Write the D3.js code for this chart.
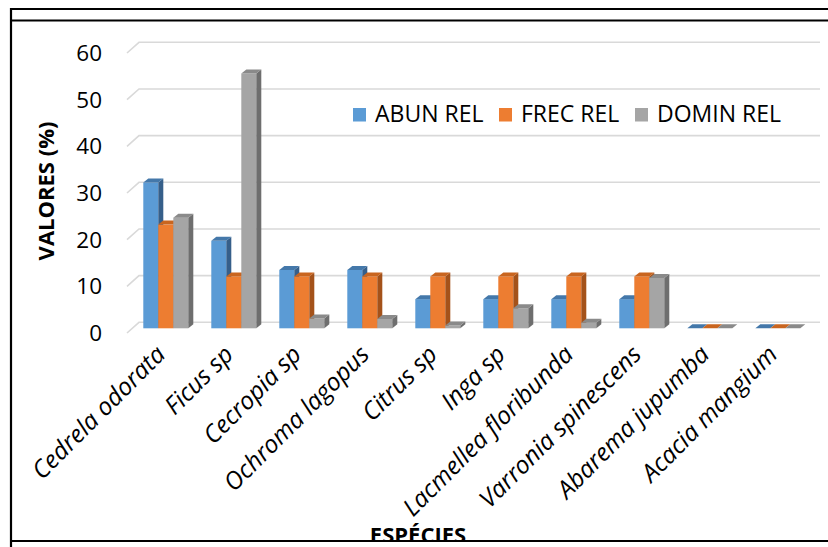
<!DOCTYPE html>
<html>
<head>
<meta charset="utf-8">
<script src="https://cdn.jsdelivr.net/npm/d3@7"></script>
<style>
  html, body { margin: 0; padding: 0; background: #fff; }
  svg { display: block; }
</style>
</head>
<body>
<svg id="chart" width="828" height="547"></svg>
<script>
// Species and relative indices (%)
const categories = ["Cedrela odorata", "Ficus sp", "Cecropia sp", "Ochroma lagopus", "Citrus sp",
                    "Inga sp", "Lacmellea floribunda", "Varronia spinescens", "Abarema jupumba", "Acacia mangium"];
const abunRel  = [31.25, 18.75, 12.5, 12.5, 6.25, 6.25, 6.25, 6.25, 0, 0];
const frecRel  = [22.22, 11.11, 11.11, 11.11, 11.11, 11.11, 11.11, 11.11, 0, 0];
const dominRel = [23.7, 54.6, 2.1, 2.0, 0.6, 4.3, 1.2, 10.8, 0, 0];
const seriesNames = ["ABUN REL", "FREC REL", "DOMIN REL"];
const yTicks = [0, 10, 20, 30, 40, 50, 60];

const seriesValues = [abunRel, frecRel, dominRel];
const palette = {
  front: ["#5b9bd5", "#ed7d31", "#a5a5a5"],
  top:   ["#4478aa", "#c9651f", "#8a8a8a"],
  side:  ["#365f8a", "#a4521a", "#6e6e6e"]
};

const svg = d3.select("#chart");
const font = "'Open Sans', 'Liberation Sans', sans-serif";

// 3D geometry: bar depth offset and back-wall offset
const depthX = 5, depthY = 4;
const wallDX = 12, wallDY = 10.7, wallShift = 6;
const wallLeft = 139, wallRight = 820;

const x = d3.scaleBand().domain(categories).range([131.8, 811.8])
  .paddingInner(23 / 68).paddingOuter(23 / 136);
const xs = d3.scaleBand().domain(seriesNames).range([0, x.bandwidth()]);
const y = d3.scaleLinear().domain([0, 60]).range([328.3, 48.3]);

// Back-wall gridlines with the oblique side edge
const grid = svg.append("g");
yTicks.forEach(t => {
  const wy = y(t) - wallShift;
  grid.append("path")
    .attr("d", `M${wallLeft - wallDX},${wy + wallDY}L${wallLeft},${wy}L${wallRight},${wy}`)
    .attr("fill", "none").attr("stroke", "#d9d9d9").attr("stroke-width", 1.6);
});

// Y tick labels
svg.append("g").selectAll("text").data(yTicks).join("text")
  .attr("x", 102).attr("y", d => y(d) - wallShift + wallDY)
  .attr("dy", "0.36em")
  .attr("text-anchor", "end")
  .attr("font-family", font).attr("font-size", 22.5).attr("fill", "#000")
  .text(d => d);

// Bars (front, top, side faces)
const bars = svg.append("g");
categories.forEach((c, ci) => {
  seriesNames.forEach((s, si) => {
    const v = seriesValues[si][ci];
    const x0 = x(c) + xs(s), w = xs.bandwidth();
    const y0 = y(0), y1 = y(v);
    const g = bars.append("g");
    g.append("rect").attr("x", x0).attr("y", y1).attr("width", w).attr("height", y0 - y1)
      .attr("fill", palette.front[si]);
    g.append("path")
      .attr("d", `M${x0 + w},${y1}L${x0 + w + depthX},${y1 - depthY}L${x0 + w + depthX},${y0 - depthY}L${x0 + w},${y0}Z`)
      .attr("fill", palette.side[si]);
    g.append("path")
      .attr("d", `M${x0},${y1}L${x0 + depthX},${y1 - depthY}L${x0 + w + depthX},${y1 - depthY}L${x0 + w},${y1}Z`)
      .attr("fill", palette.top[si]);
  });
});

// Category labels, rotated
svg.append("g").selectAll("text").data(categories).join("text")
  .attr("transform", d => `translate(${x(d) + x.bandwidth() / 2 + 1},${356}) rotate(-45)`)
  .attr("text-anchor", "end")
  .attr("font-family", font).attr("font-size", 24.5).attr("font-style", "italic").attr("fill", "#000")
  .text(d => d);

// Axis titles
svg.append("text")
  .attr("transform", "translate(54,191) rotate(-90)")
  .attr("text-anchor", "middle")
  .attr("font-family", font).attr("font-size", 22).attr("font-weight", "bold").attr("fill", "#000")
  .text("VALORES (%)");

svg.append("clipPath").attr("id", "frameClip")
  .append("rect").attr("x", 0).attr("y", 0).attr("width", 828).attr("height", 540);
svg.append("text")
  .attr("clip-path", "url(#frameClip)")
  .attr("x", 418).attr("y", 542.5)
  .attr("text-anchor", "middle")
  .attr("font-family", font).attr("font-size", 22).attr("font-weight", "bold").attr("fill", "#000")
  .text("ESPÉCIES");

// Legend
const legendX = [353, 499, 635];
const legend = svg.append("g");
seriesNames.forEach((s, i) => {
  legend.append("rect").attr("x", legendX[i]).attr("y", 108).attr("width", 13).attr("height", 13.5)
    .attr("fill", palette.front[i]);
  legend.append("text").attr("x", legendX[i] + 22).attr("y", 122)
    .attr("font-family", font).attr("font-size", 23).attr("fill", "#000")
    .text(s);
});

// Frame lines
const frame = svg.append("g").attr("stroke", "#000").attr("stroke-width", 2.2).attr("fill", "none");
frame.append("line").attr("x1", 11).attr("x2", 828).attr("y1", 9).attr("y2", 9);
frame.append("line").attr("x1", 11).attr("x2", 828).attr("y1", 20.5).attr("y2", 20.5);
frame.append("line").attr("x1", 11).attr("x2", 11).attr("y1", 8).attr("y2", 547);
frame.append("line").attr("x1", 11).attr("x2", 828).attr("y1", 541).attr("y2", 541);
</script>
</body>
</html>
